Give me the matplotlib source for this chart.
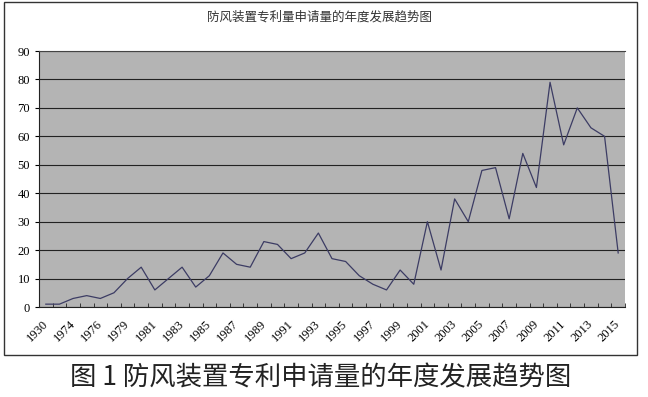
import matplotlib
matplotlib.use("Agg")
import matplotlib.pyplot as plt
import matplotlib.patches as patches
import matplotlib.transforms as mtransforms
import numpy as np

plt.rcParams['font.family'] = ['Noto Sans CJK SC', 'DejaVu Sans']

years = ["1930", "1973", "1974", "1975", "1976", "1978"] + [str(y) for y in range(1979, 2016)]
counts = [1, 1, 3, 4, 3, 5, 10, 14, 6, 10, 14, 7, 11, 19, 15, 14, 23, 22, 17, 19,
          26, 17, 16, 11, 8, 6, 13, 8, 30, 13, 38, 30, 48, 49, 31, 54, 42, 79, 57, 70,
          63, 60, 19]
yticks = list(range(0, 91, 10))
title = "防风装置专利量申请量的年度发展趋势图"
caption = "图 1 防风装置专利申请量的年度发展趋势图"

W, H = 648, 397
fig = plt.figure(figsize=(W / 100, H / 100), dpi=100)

# chart border
fig.patches.append(patches.Rectangle((4 / W, 1 - 355 / H), 633 / W, 353 / H,
                                     transform=fig.transFigure, fill=False,
                                     edgecolor='#333333', linewidth=1.0))

ax = fig.add_axes([39 / W, 1 - 307 / H, 586 / W, 256 / H])
ax.set_facecolor('#b4b4b4')
x = np.arange(len(years))
ax.plot(x, counts, color='#3c3c64', linewidth=0.9, zorder=3)

ax.set_xlim(-0.5, len(years) - 0.5)
ax.set_ylim(0, 90)
ax.set_yticks(yticks)
ax.yaxis.grid(True, color='#222222', linewidth=0.8)
ax.set_axisbelow(True)

ax.set_xticks(x[::2])
ax.set_xticklabels(years[::2], rotation=45, ha='right', va='top',
                   rotation_mode='anchor', family='Liberation Serif', fontsize=9)
ax.set_xticks(np.arange(-0.5, len(years), 1), minor=True)
ax.tick_params(axis='x', which='major', length=0, pad=8)
ax.tick_params(axis='x', which='minor', length=3, direction='in', color='#222222')
ax.tick_params(axis='y', length=3, direction='out', pad=3.5, labelsize=9)
for lab in ax.get_yticklabels():
    lab.set_family('Liberation Serif')
offset = mtransforms.ScaledTranslation(-4 / 100, 0, fig.dpi_scale_trans)
for lab in ax.get_xticklabels():
    lab.set_transform(lab.get_transform() + offset)

ax.spines['right'].set_visible(False)
ax.spines['top'].set_color('#444444')
ax.spines['left'].set_color('#222222')
ax.spines['bottom'].set_color('#222222')

fig.text(320 / W, 1 - 17 / H, title, ha='center', va='center', fontsize=9, color='#333333')
fig.text(321 / W, 1 - 378 / H, caption, ha='center', va='center', fontsize=19, color='#222222')

fig.savefig('out.png', dpi=100)
